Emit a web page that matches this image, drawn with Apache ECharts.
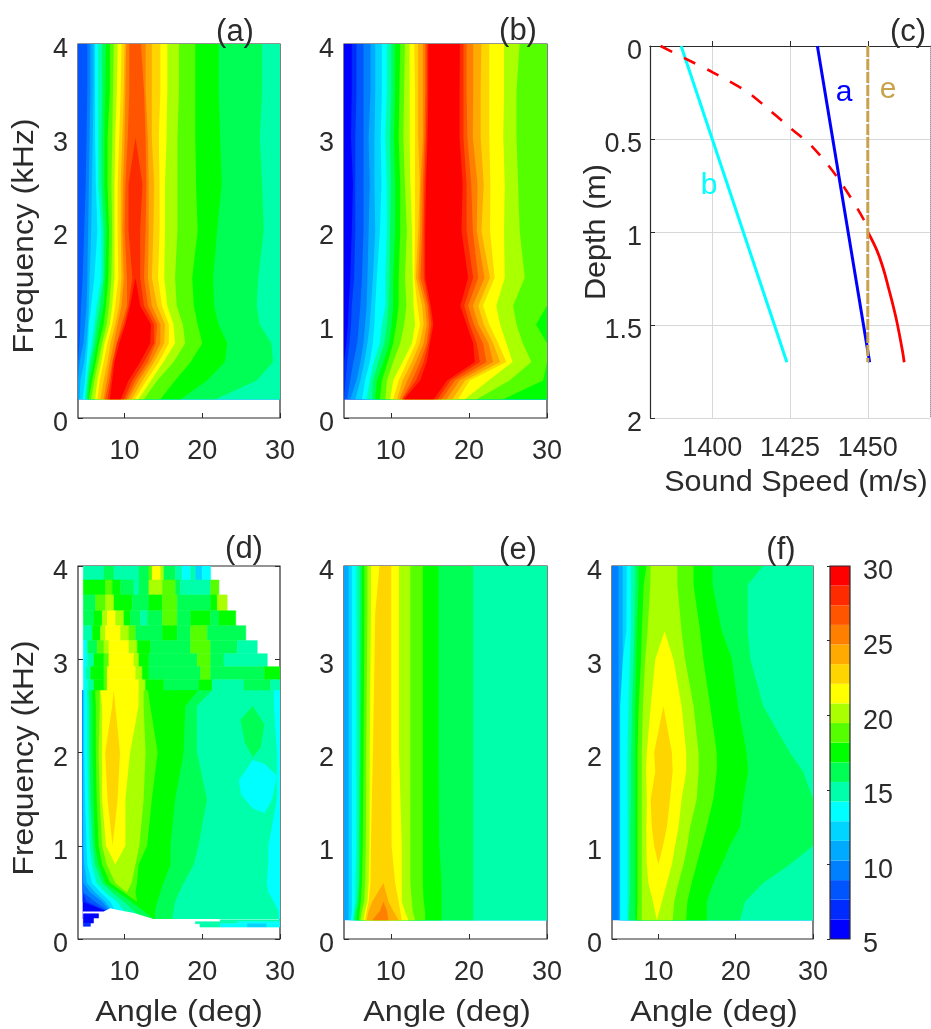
<!DOCTYPE html>
<html><head><meta charset="utf-8"><title>Angle-frequency maps</title>
<script src="https://cdn.jsdelivr.net/npm/echarts@6/dist/echarts.min.js"></script>
<style>html,body{margin:0;padding:0;background:#fff}#c{width:931px;height:1029px;filter:blur(0.5px)}</style></head>
<body><div id="c"></div>
<script>
// Colour scale: 19 discrete levels from 5 to 30
const scaleMin = 5, scaleMax = 30;
const levelColors = ['#0000ff','#002bff','#0055ff','#0080ff','#00aaff','#00d5ff','#00ffff','#00ffaa','#00ff55','#00ff00','#55ff00','#aaff00','#ffff00','#ffd500','#ffaa00','#ff8000','#ff5500','#ff2b00','#ff0000'];
const tickLabels10 = [10, 20, 30];
const soundSpeedTicks = [1400, 1425, 1450];

// Panel (a): value contours; each band is [level, left angle per freq, right angle per freq]
const aFreq = [4,3.5,3,2.5,2,1.5,1.2,1,0.8,0.6,0.4,0.2];
const aBands = [
[8,[4,4,4,4,4,4,4,4,4,4,4,4],[30,30,30,30,30,30,30,30,30,30,30,30]],
[10,[5.2,5.2,5.1,5,4.8,4.6,4.4,4.3,4.2,4,4,4],[30,30,30,30,30,30,30,30,30,30,30,30]],
[11,[5.6,5.6,5.5,5.4,5.3,5.2,5.1,4.9,4.7,4.2,4,4],[30,30,30,30,30,30,30,30,30,30,30,30]],
[12,[6,6,5.9,5.8,5.7,5.5,5.4,5.3,5.1,4.8,4.3,4.2],[30,30,30,30,30,30,30,30,30,30,30,30]],
[14,[6.2,6.2,6.2,6.3,6.5,6.1,5.7,5.4,5.3,5.1,4.9,4.6],[30,30,30,30,30,30,30,30,30,30,30,30]],
[15,[6.6,6.6,6.6,6.6,7,7,6.4,6.1,5.8,5.4,5.1,4.9],[30,30,30,30,30,30,30,30,30,30,30,30]],
[16,[7.1,7.1,7,7,7.3,7.3,6.8,6.4,6.1,5.6,5.3,5.1],[27.7,27.7,27.4,27.7,27.9,27.2,27,27.4,28.9,29.1,27,21.7]],
[18,[7.6,7.5,7.4,7.4,7.7,7.5,7.3,6.8,6.4,6,5.5,5.3],[22.1,22.1,22.3,22.5,21.9,21.4,21.5,22.1,23.2,22.9,20.6,17.2]],
[19,[8.1,8.1,7.8,7.8,8,7.9,7.6,7.3,6.7,6.3,5.8,5.4],[19.1,19.1,19.1,19.2,19.4,18.7,18.9,19.4,20,18.5,16.5,14.6]],
[20,[8.6,8.5,8.4,8.3,8.4,8.3,8,7.7,7.1,6.6,6.1,5.7],[17,17,16.8,16.8,16.8,16.5,16.7,17.5,17.8,16.3,14.2,12.5]],
[22,[9.1,9,8.8,8.7,8.7,8.7,8.4,8.1,7.4,7,6.5,6.2],[15.5,15.5,15.4,15.2,15.2,15.1,15.5,16.3,16.5,15,13.4,11.8]],
[23,[9.6,9.5,9.3,9.1,9.1,9.2,8.8,8.4,7.8,7.3,6.8,6.5],[14.6,14.6,14.4,14.5,14.5,14.3,14.8,15.7,15.7,14.4,12.8,11.3]],
[24,[10,9.9,9.7,9.5,9.5,9.6,9.3,8.8,8.2,7.8,7.3,6.9],[13.5,13.5,13.5,13.8,13.7,13.5,14.2,15.2,15.1,13.8,12.3,10.9]],
[26,[10.2,10.1,10,9.8,9.7,9.9,9.6,9.1,8.6,8.1,7.7,7.3],[12.7,12.7,13,13.1,13.1,13,13.5,14.6,14.6,13.4,11.8,10.5]],
[27,[10.6,10.6,10.4,10.1,10,10.3,10.3,9.6,9,8.4,8,7.5],[12.1,12.5,12.7,12.8,12.7,12.5,13,14.2,14,13,11.4,10.2]],
[28,[11.4,11.4,11.4,10.5,10.5,11,10.5,9.9,9,8.5,8.2,7.8],[11.4,11.4,11.4,12.3,12,12,12.5,13.8,13.8,12.5,11,9.9]],
[29,[11.4,11.4,11.4,11.4,11.4,11.4,10.7,10.1,9.3,8.7,8.4,8.1],[11.4,11.4,11.4,11.4,11.4,11.4,12,13.4,13.3,12,10.5,9.5]]
];

// Panel (b)
const bFreq = [4,3.5,3,2.5,2,1.5,1.2,1,0.8,0.6,0.4,0.2];
const bBands = [
[6,[4,4,4,4,4,4,4,4,4,4,4,4],[30,30,30,30,30,30,30,30,30,30,30,30]],
[7,[5,5,4.9,5.15,5,4.8,4.6,4.5,4.3,4,4,4],[30,30,30,30,30,30,30,30,30,30,30,30]],
[8,[5.6,5.6,5.45,5.45,5.45,5.3,5,4.9,4.7,4.4,4.2,4],[30,30,30,30,30,30,30,30,30,30,30,30]],
[10,[6.5,6.5,6.5,6.5,6.5,6.3,6.1,5.9,5.7,5.2,4.8,4.4],[30,30,30,30,30,30,30,30,30,30,30,30]],
[11,[7.4,7.4,7.15,7.3,7.15,7,6.9,6.7,6.5,6.1,5.6,4.8],[30,30,30,30,30,30,30,30,30,30,30,30]],
[12,[8,8,7.9,7.9,8,7.7,7.45,7.3,7,6.6,6.1,5.45],[30,30,30,30,30,30,30,30,30,30,30,30]],
[14,[8.85,8.85,8.7,8.8,8.6,8.2,8,7.9,7.7,7.3,6.7,6.3],[30,30,30,30,30,30,30,30,30,30,30,30]],
[15,[9.5,9.5,9.3,9.5,9.5,9.3,9.3,8.85,8.6,7.8,7.3,6.9],[30,30,30,30,30,30,30,30,30,30,30,30]],
[16,[10.05,10.05,9.9,10,9.9,9.8,9.7,9.5,9.15,8.4,7.7,7.6],[30,30,30,30,30,30,30,30,30,30,30,30]],
[18,[10.55,10.55,10.4,10.55,10.55,10.3,10.3,10.1,9.8,9.05,8.2,8],[30,30,30,30,30,30,30,30,30,30,30,30]],
[19,[11.2,11.1,11,11.2,11.2,11,11,10.7,10.3,9.6,8.85,8.6],[30,30,30,30,30,30,30,28.6,30,30,29.5,24.4]],
[20,[11.8,11.7,11.6,11.8,12.05,11.8,12,11.7,11.2,10.3,9.5,9.3],[26.5,26.1,26.1,26.3,26.5,27.15,25.65,26.1,26.9,28,25.2,21]],
[22,[12.4,12.4,12.4,12.5,12.7,12.8,12.9,13.1,12.7,11.5,10.3,9.9],[24.5,24.5,24.4,24.6,24.5,24.6,23.5,24,24.8,25.6,22.5,19.5]],
[23,[13,13.1,13.1,13.1,13.1,13,13.4,13.75,13.2,12.1,11,10.3],[22.6,22.6,22.6,22.75,22.7,23.3,21.8,22.6,23.75,24.8,20.1,18.6]],
[24,[13.5,13.5,13.5,13.7,13.5,13.2,14,14.2,13.7,12.7,11.5,10.8],[21.6,21.5,21.5,21.9,21.6,22.7,21.2,21.9,23.1,24,19.5,17.9]],
[26,[14.1,14.1,14.1,13.8,13.75,13.5,14.4,14.6,14.2,13.2,12.1,11.1],[20.55,20.55,20.5,21.1,21,22,20.5,21.2,22.5,23.1,18.8,17.15]],
[27,[14.4,14.4,14.3,14.1,14,13.8,14.7,14.9,14.6,13.75,12.7,11.4],[19.7,19.7,19.8,20.3,20.5,21.2,19.9,20.65,21.8,22.25,18.2,16.5]],
[28,[14.6,14.6,14.5,14.3,14.2,14.2,14.9,15.2,14.8,14.2,13.2,11.5],[19.3,19.3,19.3,19.7,19.7,20.55,19.4,20.1,21,21.4,17.65,16]],
[29,[14.8,14.8,14.7,14.5,14.4,14.4,15.1,15.45,15,14.6,13.75,11.7],[18.85,18.8,18.8,19.2,19.05,19.9,18.9,19.7,20.55,20.75,17.2,15.5]]
];

// Panel (d): contours below 2.67 kHz
const dFreq = [2.67,2.5,2,1.5,1,0.8,0.6,0.5,0.4,0.3,0.214];
const dBands = [
[6,[4.6,4.6,4.6,4.6,4.6,4.6,4.6,4.6,4.6,4.6,4.6],[30,30,30,30,30,30,30,30,30,30,30]],
[7,[4.6,4.6,4.6,4.6,4.6,4.6,4.6,4.6,4.6,7.5,7.7],[30,30,30,30,30,30,30,30,30,30,30]],
[8,[4.6,4.6,4.6,4.6,4.6,4.6,4.6,4.6,5.15,7.7,8.15],[30,30,30,30,30,30,30,30,30,30,30]],
[10,[4.6,4.6,4.6,4.6,4.6,4.6,4.6,4.7,6.2,7.9,8.6],[30,30,30,30,30,30,30,30,30,30,30]],
[11,[4.6,4.6,4.6,4.6,4.6,4.6,4.7,5.6,7.1,8.15,9],[30,30,30,30,30,30,30,30,30,30,30]],
[12,[4.65,4.65,4.65,4.65,4.7,4.8,5.15,6.2,7.5,8.4,9.45],[30,30,30,30,30,30,30,30,30,30,30]],
[14,[4.8,4.8,4.8,4.9,5.1,5.2,5.8,6.9,8.15,8.8,9.9],[30,30,30,30,30,30,30,30,30,30,30]],
[15,[5.15,5.2,5.2,5.3,5.5,5.8,6.4,7.5,9,9.9,11.2],[29.2,29.2,29.6,29.6,28.5,28.5,28.3,28.5,29.2,29.8,29.8]],
[16,[5.4,5.5,5.5,5.6,5.9,6.2,7.1,8.4,9.9,11.2,12.45],[21.3,19.3,19.3,20.6,19.5,18.9,17.6,17,16.5,16.3,16.1]],
[18,[5.8,5.9,5.9,6,6.2,6.65,7.5,9.2,10.9,12.45,13.7],[19.5,17.8,17.6,16.5,15.9,15.9,15,14.6,14.2,13.9,13.9]],
[19,[6.2,6.3,6.3,6.4,6.65,7.1,8.15,9.9,11.6,13.3,13.9],[13,13.3,14.25,13.5,12.9,11.8,11.6,11.4,11.6,13.3,13.9]],
[20,[6.8,6.8,6.65,6.8,7.1,7.7,8.8,10.3,10.3,10.3,10.3],[12.45,12.45,12.7,12.45,11.9,11.4,10.9,10.3,10.3,10.3,10.3]],
[22,[6.9,7.1,7.1,7.1,7.6,8.8,8.8,8.8,8.8,8.8,8.8],[11.8,11.8,10.7,10.1,10.1,8.8,8.8,8.8,8.8,8.8,8.8]],
[23,[8.6,8.4,7.5,7.8,8.45,8.45,8.45,8.45,8.45,8.45,8.45],[8.6,8.8,9.4,9.1,8.45,8.45,8.45,8.45,8.45,8.45,8.45]]
];
// Blobs in (d): [level, [[angle, freq], ...]]
const dPatches = [
[16,[[24.9,2.35],[26.5,2.5],[28,2.3],[27.5,2.05],[26.5,1.95],[25.5,2.1]]],
[14,[[24.7,1.7],[26.5,1.92],[28,1.88],[29.6,1.75],[29,1.5],[28,1.35],[26.5,1.4],[25,1.55]]]
];
// Blocky rows in (d): [freq low, freq high, [angle, level, angle, level, ..., end angle]]
const dBlockRows = [
[3.85,4,[4.68,15,7.34,16,8.63,15,11.85,16,13.13,19,13.56,22,14.63,20,15.06,16,16.56,15,17.42,14,18.5,15,19.14,12,20,14,21.07]],
[3.69,3.85,[4.68,18,7.55,19,8.41,18,9.49,16,11.2,15,11.85,16,13.13,20,14.85,19,16.56,16,17.2,15,21.07,19,22.14]],
[3.52,3.69,[4.68,16,6.27,19,7.55,20,8.63,18,10.99,16,13.13,18,14.85,19,16.78,16,21.07,18,21.93,20,23.2]],
[3.36,3.52,[4.68,16,6.05,18,7.12,20,7.77,22,8.84,20,9.91,18,10.77,16,12.06,15,12.92,16,14.85,19,16.78,16,18.5,18,21.07,16,22.14,18,24.3]],
[3.2,3.36,[4.68,15,5.84,18,6.91,20,7.55,22,9.49,20,10.56,19,11.42,16,14.85,18,16.78,16,18.5,19,20.64,16,25.6]],
[3.06,3.2,[4.68,14,5.2,16,6.48,19,7.34,20,7.98,22,10.56,20,11.63,18,13.35,16,18.5,19,21.07,16,24.5,15,27.07]],
[2.92,3.06,[4.68,14,5.2,15,6.05,18,7.34,19,7.98,22,11.2,20,11.85,18,13.13,16,19.35,19,21.07,16,22.8,15,28.36]],
[2.78,2.92,[4.68,14,5,15,5.62,18,7.34,19,7.77,22,11.42,20,12.27,18,13.13,16,19.78,19,21.07,16,28,18,30]],
[2.67,2.78,[4.68,14,5.2,15,6.05,18,7.34,19,7.77,22,11.85,20,12.7,18,15.06,16,19.57,18,21.27,15,25.36,16,28.8,15,30]],
[0.225,0.271,[4.68,6,6.65]],
[0.171,0.225,[4.68,6,6]],
[0.136,0.171,[4.68,7,5.6]],
[0.186,0.207,[22.3,15,30]],
[0.164,0.186,[19.1,15,24.5,14,30]],
[0.128,0.164,[19.7,15,22.3,14,25.8,12,28.3,14,30]]
];
// White notch with no data at the low-frequency edge of (d)
const dGap = [[4.6,0.214],[4.6,0.296],[7.3,0.296],[8.15,0.33],[9,0.314],[11.2,0.278],[13.7,0.214]];

// Panel (e)
const eFreq = [4,3.5,2,1,0.6,0.4,0.3,0.2];
const eBands = [
[11,[4,4,4,4,4,4,4,4],[30,30,30,30,30,30,30,30]],
[12,[4.6,4.6,4.6,4.6,4.6,4.6,4.6,4.6],[30,30,30,30,30,30,30,30]],
[14,[5,5,5,5,5,5,5,4.9],[30,30,30,30,30,30,30,30]],
[15,[5.6,5.6,5.6,5.6,5.45,5.45,5.3,5.15],[30,30,30,30,30,30,30,30]],
[16,[6,6,6,5.9,5.9,5.7,5.45,5.3],[20.55,20.55,20.55,20.55,20.55,20.55,20.55,20.55]],
[18,[6.3,6.3,6.15,6.1,6,5.9,5.7,5.6],[16.1,16.1,16.1,16.2,16.5,16.5,16.5,16.5]],
[19,[6.6,6.6,6.5,6.4,6.3,6.15,6,5.9],[14.1,14.1,14.1,14.1,14.1,14.2,14.4,14.4]],
[20,[7,7,6.85,6.8,6.7,6.6,6.3,6.1],[12.5,12.5,12.5,12.5,12.5,12.7,12.8,13.1]],
[22,[7.45,7.45,7.3,7.25,7.15,7,6.7,6.5],[11.05,11.05,11.05,11.4,11.4,11.4,11.8,12.25]],
[23,[8.55,8,7.7,7.45,7.4,7.15,6.9,6.7],[10.05,10.05,10.05,10.1,10.55,11,11.2,11.4]],
[24,[9.05,9.05,9.05,9.05,9.05,7.6,7.15,6.9],[9.05,9.05,9.05,9.05,9.05,9.7,10.3,11]],
[26,[9.05,9.05,9.05,9.05,9.05,9.05,8.6,7.6],[9.05,9.05,9.05,9.05,9.05,9.05,9.5,9.7]]
];

// Panel (f)
const fFreq = [4,3.8,3.3,3,2.5,2,1.8,1.5,1.2,1,0.8,0.6,0.4,0.2];
const fBands = [
[10,[4,4,4,4,4,4,4,4,4,4,4,4,4,4],[30,30,30,30,30,30,30,30,30,30,30,30,30,30]],
[11,[4.85,4.85,4.85,4.85,4.85,4.85,4.85,4.85,4.85,4.85,4.85,4.85,4.85,4.85],[30,30,30,30,30,30,30,30,30,30,30,30,30,30]],
[12,[5.4,5.4,5.4,5.4,5.4,5.4,5.4,5.4,5.4,5.4,5.4,5.4,5.4,5.4],[30,30,30,30,30,30,30,30,30,30,30,30,30,30]],
[14,[5.9,5.9,5.85,5.4,5.05,5.05,5.05,5.05,5.05,5.05,5.05,5.05,5.05,5.05],[30,30,30,30,30,30,30,30,30,30,30,30,30,30]],
[15,[6.45,6.45,6.45,6.3,6.15,6,6,6,6,6,6,6,6,6],[30,30,30,30,30,30,30,30,30,30,30,30,30,30]],
[16,[7,7,6.9,6.8,6.6,6.45,6.45,6.45,6.35,6.35,6.35,6.35,6.3,6.15],[23.55,21.55,21.55,21.9,23.55,27,28.7,30,30,30,27,23.55,21.2,20.55]],
[18,[7.45,7.45,7.2,7.15,7,7,7,7,7,7,7,7,7,7],[17,17,18.2,19.5,20.3,21.4,21.6,21,20.55,19.25,18.2,17.1,16.25,16.25]],
[19,[8.45,8.1,7.85,7.75,7.45,7.3,7.3,7.3,7.3,7.3,7.3,7.3,7.3,7.2],[14.55,14.55,15.4,15.8,16.7,17.55,17.55,17.1,16.25,15.6,14.95,14.3,13.75,13.6]],
[20,[9,8.95,8.6,8.3,8,7.85,7.85,7.85,7.85,7.85,7.85,7.85,7.85,7.85],[12.45,12.45,13,13.45,14.55,15.2,15.2,14.95,14.1,13.75,13.25,12.6,12.05,11.85]],
[22,[10.8,10.8,10.8,9.6,9,8.5,8.4,8.5,8.45,8.45,8.5,8.7,9.3,9.8],[10.8,10.8,10.8,11.95,13,13.6,13.6,13,12.6,12.15,11.75,11.1,10.45,9.8]],
[23,[10.65,10.65,10.65,10.65,10.65,9.45,9.6,9,9.15,9.45,10,10,10,10],[10.65,10.65,10.65,10.65,10.65,11.75,11.85,11.5,11.1,10.6,10,10,10,10]]
];

// Panel (c): sound speed profiles [speed m/s, depth m]
const profileA = [[1433.8,0],[1450.6,1.7]];
const profileB = [[1390,0],[1424,1.7]];
const profileE = [[1450,0],[1450,1.7]];
const profileDashed = [[1383.4,0],[1391.4,0.068],[1400,0.14],[1411.3,0.247],[1417.2,0.327],[1424.7,0.435],[1432.2,0.542],[1440.8,0.72],[1449.4,0.954],[1450,1]];
const profileSolid = [[1450,1],[1452.9,1.0975],[1454.8,1.187],[1456.3,1.277],[1459,1.456],[1461.1,1.635],[1461.7,1.7]];

function colorOf(v){
  const i = Math.floor((v-scaleMin)/(scaleMax-scaleMin)*levelColors.length);
  return levelColors[Math.max(0,Math.min(levelColors.length-1,i))];
}
function bandPolys(freq,bands){
  return bands.map(([v,L,R])=>({v,pts:[...freq.map((f,i)=>[L[i],f]),...freq.map((f,i)=>[R[i],f]).reverse()]}));
}
function rowPolys(rows){
  const out=[];
  rows.forEach(([lo,hi,runs])=>{
    for(let i=0;i+2<runs.length;i+=2){
      out.push({v:runs[i+1],seal:true,pts:[[runs[i],lo],[runs[i+2],lo],[runs[i+2],hi],[runs[i],hi]]});
    }
  });
  return out;
}
function fillSeries(idx,polys){
  return {type:'custom',coordinateSystem:'cartesian2d',xAxisIndex:idx,yAxisIndex:idx,clip:true,silent:true,animation:false,z:2,
    data:polys.map(p=>p.pts[0]),
    renderItem:(params,api)=>{
      const p=polys[params.dataIndex], col=p.white?'#ffffff':colorOf(p.v);
      const style=p.seal?{fill:col,stroke:col,lineWidth:0.5}:{fill:col};
      return {type:'polygon',shape:{points:p.pts.map(q=>api.coord(q))},style};
    }};
}
const FONT='"Liberation Sans", Arial, sans-serif', INK='#2b2b2b', SIZE=27;
const plain=v=>String(v);
const boxes=[[78,44,202,374],[344,44,203,374],[650,46,280,372],[78,566,202,373],[344,566,203,373],[612,566,201,373],[830,566,20,373]];
const grid=boxes.map((b,i)=>({left:b[0],top:b[1],width:b[2],height:b[3],show:i!==2,backgroundColor:'transparent',borderColor:INK,borderWidth:1.2,z:i===6?10:0}));
const lbl={fontFamily:FONT,fontSize:SIZE,color:INK};
const lowered={verticalAlign:'top',lineHeight:12};
function angleX(i){return {type:'value',gridIndex:i,min:4,max:30,axisLine:{show:false},
  axisTick:{inside:true,length:5,customValues:tickLabels10,lineStyle:{color:INK}},
  axisLabel:{...lbl,margin:20,customValues:tickLabels10,hideOverlap:false,formatter:plain},splitLine:{show:false}};}
function freqY(i){return {type:'value',gridIndex:i,min:0,max:4,interval:1,axisLine:{show:false},
  axisTick:{inside:true,length:5,lineStyle:{color:INK}},axisLabel:{...lbl,...lowered,margin:10,formatter:plain},splitLine:{show:false}};}
const xAxis=[angleX(0),angleX(1),
 {type:'value',gridIndex:2,min:1380,max:1470,axisLine:{show:true,lineStyle:{color:INK,width:1.2}},
  axisTick:{inside:true,length:5,customValues:soundSpeedTicks,lineStyle:{color:INK}},
  axisLabel:{...lbl,margin:17,customValues:soundSpeedTicks,hideOverlap:false,formatter:plain},
  splitLine:{show:true,lineStyle:{color:'#d8d8d8',width:1}}},
 angleX(3),angleX(4),angleX(5),
 {type:'value',gridIndex:6,min:0,max:1,show:false},
 {type:'value',gridIndex:2,position:'top',min:1380,max:1470,axisLine:{show:true,lineStyle:{color:INK,width:1.2}},axisTick:{show:false},axisLabel:{show:false},splitLine:{show:false}}
];
const yAxis=[freqY(0),freqY(1),
 {type:'value',gridIndex:2,inverse:true,min:0,max:2,interval:0.5,axisLine:{show:true,lineStyle:{color:INK,width:1.2}},
  axisTick:{inside:true,length:5,lineStyle:{color:INK}},axisLabel:{...lbl,...lowered,margin:8,formatter:plain},
  splitLine:{show:true,lineStyle:{color:'#d8d8d8',width:1}}},
 freqY(3),freqY(4),freqY(5),
 {type:'value',gridIndex:6,position:'right',min:scaleMin,max:scaleMax,interval:5,z:11,axisLine:{show:false},
  axisTick:{inside:true,length:3,lineStyle:{color:INK}},axisLabel:{...lbl,...lowered,margin:13,formatter:plain},splitLine:{show:false}},
 {type:'value',gridIndex:2,position:'right',inverse:true,min:0,max:2,axisLine:{show:true,lineStyle:{color:'#9a9a9a',width:1,type:'dotted'}},axisTick:{show:false},axisLabel:{show:false},splitLine:{show:false}},
 {type:'value',gridIndex:3,position:'right',min:0,max:4,interval:1,axisLine:{show:false},axisTick:{inside:true,length:5,lineStyle:{color:INK}},axisLabel:{show:false},splitLine:{show:false}}
];
const barLevels=levelColors.map((c,i)=>{
  const w=(scaleMax-scaleMin)/levelColors.length, lo=scaleMin+i*w;
  return {v:lo+w/2,pts:[[0,lo],[1,lo],[1,lo+w],[0,lo+w]]};
});
const lineSeries=(data,color,width,dash,smooth)=>({type:'line',xAxisIndex:2,yAxisIndex:2,data,showSymbol:false,symbol:'none',silent:true,animation:false,z:3,smooth:smooth||false,
  lineStyle:{color,width,type:dash||'solid'}});
const dPolys=[...bandPolys(dFreq,dBands),...dPatches.map(([v,pts])=>({v,pts})),{v:0,white:true,pts:dGap},...rowPolys(dBlockRows)];
const series=[
 fillSeries(0,bandPolys(aFreq,aBands)),
 fillSeries(1,bandPolys(bFreq,bBands)),
 lineSeries(profileB,'#00ffff',3),
 lineSeries(profileA,'#0000ff',3),
 lineSeries(profileDashed,'#ff0000',2.6,[13,13],0.3),
 lineSeries(profileSolid,'#ff0000',2.8,null,0.4),
 lineSeries(profileE,'#c9a24d',3,[11,2]),
 fillSeries(3,dPolys),
 fillSeries(4,bandPolys(eFreq,eBands)),
 fillSeries(5,bandPolys(fFreq,fBands)),
 fillSeries(6,barLevels)
];
const txt=(text,x,y,opt={})=>({type:'text',x,y,rotation:opt.rot||0,scaleX:opt.sx||1,scaleY:opt.sy||1,silent:true,z:20,
  style:{text,fontFamily:FONT,fontSize:opt.size||30,fill:opt.fill||INK,align:'center',verticalAlign:'middle'}});
const graphic=[
 txt('(a)',235,32,{size:31}),txt('(b)',518,31,{size:31}),txt('(c)',908,32,{size:31}),txt('(d)',244,549,{size:31}),txt('(e)',518,550,{size:31}),txt('(f)',781,550,{size:31}),
 txt('Frequency (kHz)',25,236,{rot:Math.PI/2,sx:1.06}),txt('Frequency (kHz)',25,758,{rot:Math.PI/2,sx:1.06}),
 txt('Depth (m)',597,232,{rot:Math.PI/2,sx:1.02}),
 txt('Sound Speed (m/s)',796,483,{size:29,sx:1.055}),
 txt('Angle (deg)',179,1013,{sx:1.08}),txt('Angle (deg)',447,1013,{sx:1.08}),txt('Angle (deg)',714,1013,{sx:1.08}),
 txt('a',844,93,{fill:'#0000ff'}),txt('e',888,90,{fill:'#c9a24d'}),txt('b',709,186,{fill:'#00ffff'})
];
const chart=echarts.init(document.getElementById('c'),null,{renderer:'canvas'});
chart.setOption({animation:false,backgroundColor:'#fff',grid,xAxis,yAxis,series,graphic:{elements:graphic}});
</script></body></html>
